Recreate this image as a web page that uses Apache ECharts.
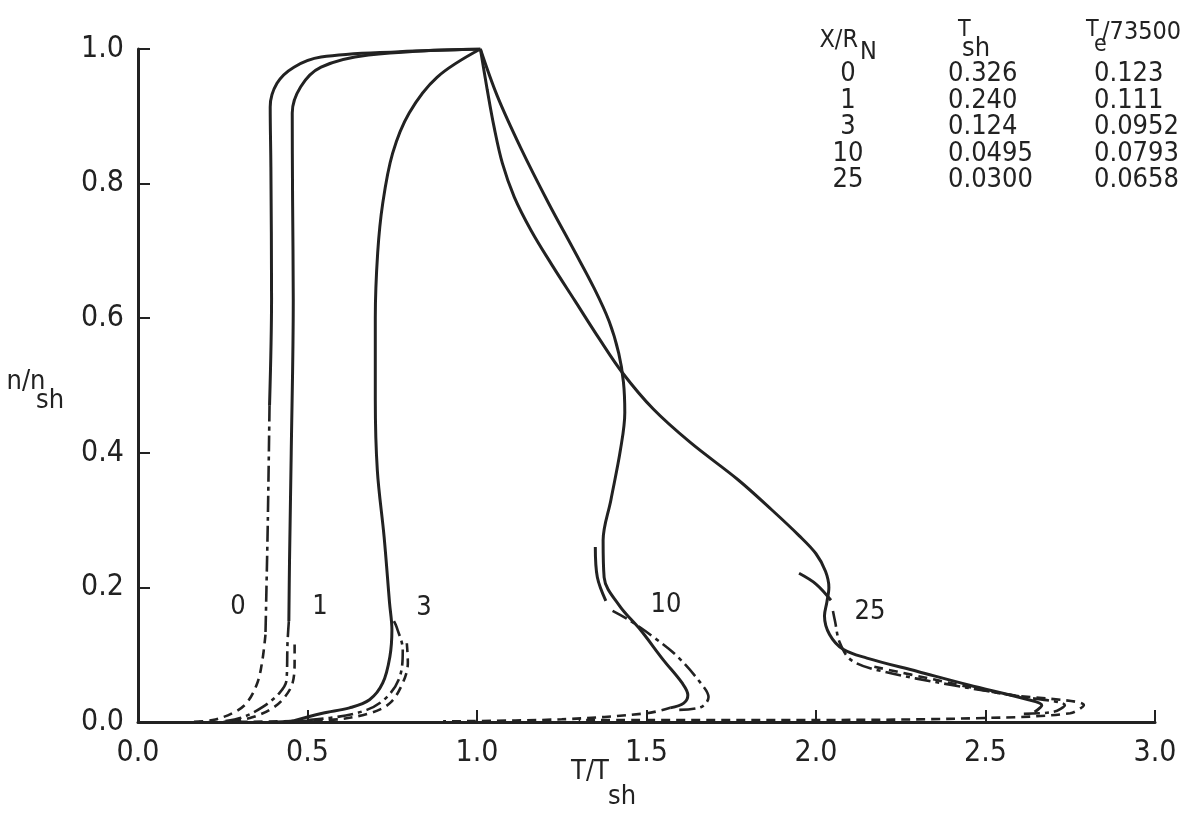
<!DOCTYPE html>
<html>
<head>
<meta charset="utf-8">
<title>n/nsh vs T/Tsh</title>
<script src="https://cdn.jsdelivr.net/npm/echarts@6/dist/echarts.min.js"></script>
<style>
  html, body { margin: 0; padding: 0; background: #fff; }
  #chart { width: 1185px; height: 831px; }
</style>
</head>
<body>
<div id="chart"></div>
<script>
// 曲线数据 [T/Tsh, n/nsh]
const case0Solid = [[1.01, 1.0], [0.77, 0.996], [0.54, 0.988], [0.46, 0.973], [0.41, 0.949], [0.39, 0.914], [0.392, 0.825], [0.394, 0.63], [0.388, 0.47]];
const case0DashDot = [[0.388, 0.47], [0.383, 0.30], [0.379, 0.20], [0.376, 0.13]];
const case0Dash = [[0.376, 0.13], [0.367, 0.092], [0.352, 0.058], [0.32, 0.028], [0.278, 0.013], [0.22, 0.003], [0.15, 0.0]];

const case1Solid = [[1.01, 1.0], [0.68, 0.991], [0.54, 0.973], [0.48, 0.944], [0.455, 0.905], [0.456, 0.776], [0.458, 0.627], [0.452, 0.40], [0.447, 0.241], [0.445, 0.15]];
const case1DashDot = [[0.445, 0.15], [0.441, 0.117], [0.438, 0.062], [0.417, 0.043], [0.367, 0.022], [0.308, 0.007], [0.25, 0.001]];
const case1Dash = [[0.462, 0.115], [0.462, 0.092], [0.456, 0.058], [0.426, 0.033], [0.388, 0.018], [0.337, 0.007], [0.28, 0.001]];

const case3Solid = [[1.01, 1.0], [0.882, 0.958], [0.80, 0.905], [0.751, 0.845], [0.722, 0.771], [0.707, 0.697], [0.70, 0.60], [0.70, 0.48], [0.706, 0.374], [0.726, 0.275], [0.742, 0.177], [0.749, 0.137], [0.743, 0.097], [0.722, 0.058], [0.683, 0.033], [0.624, 0.021], [0.544, 0.013], [0.447, 0.0]];
const case3DashDot = [[0.755, 0.15], [0.763, 0.141], [0.781, 0.107], [0.772, 0.067], [0.734, 0.037], [0.675, 0.018], [0.565, 0.006], [0.40, 0.0]];
const case3Dash = [[0.793, 0.117], [0.796, 0.088], [0.781, 0.058], [0.743, 0.028], [0.683, 0.013], [0.565, 0.003], [0.18, 0.0]];

const case10Solid = [[1.01, 1.0], [1.06, 0.93], [1.13, 0.852], [1.21, 0.772], [1.285, 0.702], [1.345, 0.645], [1.39, 0.595], [1.418, 0.548], [1.432, 0.505], [1.436, 0.46], [1.423, 0.404], [1.395, 0.33], [1.372, 0.27], [1.375, 0.215], [1.42, 0.173], [1.482, 0.137], [1.55, 0.092], [1.605, 0.058], [1.622, 0.04], [1.61, 0.028], [1.57, 0.021]];
const case10Arc = [[1.349, 0.26], [1.355, 0.215], [1.38, 0.18]];
const case10DashDot = [[1.40, 0.165], [1.453, 0.15], [1.521, 0.126], [1.592, 0.097], [1.669, 0.052], [1.683, 0.037], [1.66, 0.022], [1.59, 0.018]];
const case10Dash = [[1.57, 0.021], [1.50, 0.013], [1.25, 0.004], [0.9, 0.001]];

const case25Solid = [[1.01, 1.0], [1.03, 0.94], [1.05, 0.885], [1.075, 0.83], [1.11, 0.78], [1.16, 0.73], [1.22, 0.68], [1.29, 0.625], [1.36, 0.57], [1.429, 0.519], [1.52, 0.465], [1.63, 0.415], [1.77, 0.36], [1.87, 0.315], [1.95, 0.277], [2.0, 0.25], [2.028, 0.224], [2.038, 0.2], [2.032, 0.178], [2.025, 0.158], [2.04, 0.13], [2.08, 0.108], [2.15, 0.095], [2.3, 0.075], [2.45, 0.055], [2.627, 0.033], [2.666, 0.025], [2.645, 0.015]];
const case25Arc = [[1.95, 0.221], [2.0, 0.205], [2.044, 0.181]];
const case25DashDot = [[2.05, 0.165], [2.056, 0.15], [2.07, 0.118], [2.104, 0.092], [2.19, 0.076], [2.4, 0.055], [2.6, 0.038], [2.734, 0.025], [2.70, 0.015], [2.6, 0.012]];
const case25Dash = [[2.172, 0.082], [2.35, 0.063], [2.55, 0.042], [2.79, 0.025], [2.75, 0.013], [2.5, 0.006], [2.0, 0.003], [1.3, 0.003]];

// 表格
const tableCases = ['0', '1', '3', '10', '25'];
const tableTsh = ['0.326', '0.240', '0.124', '0.0495', '0.0300'];
const tableTe = ['0.123', '0.111', '0.0952', '0.0793', '0.0658'];

const FONT = "'Liberation Sans Narrow', 'DejaVu Sans Condensed', sans-serif";
const INK = '#222';

const myChart = echarts.init(document.getElementById('chart'));

function curve(data, kind) {
  let type = 'solid';
  let width = 3;
  if (kind === 'dash') { type = [9, 6]; width = 2.6; }
  if (kind === 'dashdot') { type = [16, 5, 4, 5]; width = 2.6; }
  return {
    type: 'line',
    data: data,
    smooth: 0.35,
    symbol: 'none',
    silent: true,
    lineStyle: { color: INK, width: width, type: type }
  };
}

function txt(x, y, s, size, align) {
  return {
    type: 'text',
    x: x,
    y: y,
    style: {
      text: s,
      font: size + 'px ' + FONT,
      fill: INK,
      align: align || 'center',
      verticalAlign: 'middle'
    }
  };
}

const graphics = [];
// 曲线标注
graphics.push(txt(238, 607, '0', 27));
graphics.push(txt(320, 607, '1', 27));
graphics.push(txt(424, 608, '3', 27));
graphics.push(txt(666, 605, '10', 27));
graphics.push(txt(870, 612, '25', 27));
// 坐标轴名称
graphics.push(txt(590, 772, 'T/T', 27));
graphics.push(txt(622, 797, 'sh', 27));
graphics.push(txt(26, 382, 'n/n', 27));
graphics.push(txt(50, 401, 'sh', 27));
// 表头
graphics.push(txt(858, 40, 'X/R', 25, 'right'));
graphics.push(txt(860, 52, 'N', 25, 'left'));
graphics.push(txt(958, 30, 'T', 23, 'left'));
graphics.push(txt(962, 49, 'sh', 27, 'left'));
graphics.push(txt(1086, 30, 'T', 23, 'left'));
graphics.push(txt(1094, 45, 'e', 23, 'left'));
graphics.push(txt(1102, 32, '/73500', 25, 'left'));
tableCases.forEach((c, i) => {
  const y = 74 + i * 26.5;
  graphics.push(txt(848, y, c, 27));
  graphics.push(txt(948, y, tableTsh[i], 27, 'left'));
  graphics.push(txt(1094, y, tableTe[i], 27, 'left'));
});

const axisCommon = {
  type: 'value',
  axisLine: { show: true, onZero: false, lineStyle: { color: INK, width: 3 } },
  axisTick: { show: true, inside: true, length: 12, lineStyle: { color: INK, width: 2 } },
  splitLine: { show: false },
  axisLabel: {
    color: INK,
    fontSize: 30,
    fontFamily: FONT,
    formatter: v => v.toFixed(1)
  }
};

myChart.setOption({
  backgroundColor: '#fff',
  animation: false,
  grid: { left: 138, right: 30, top: 49, bottom: 109 },
  xAxis: Object.assign({}, axisCommon, {
    min: 0, max: 3, interval: 0.5,
    axisLabel: Object.assign({}, axisCommon.axisLabel, { margin: 16 })
  }),
  yAxis: Object.assign({}, axisCommon, {
    min: 0, max: 1, interval: 0.2,
    axisLabel: Object.assign({}, axisCommon.axisLabel, { margin: 14 })
  }),
  series: [
    curve(case0Solid, 'solid'), curve(case0DashDot, 'dashdot'), curve(case0Dash, 'dash'),
    curve(case1Solid, 'solid'), curve(case1DashDot, 'dashdot'), curve(case1Dash, 'dash'),
    curve(case3Solid, 'solid'), curve(case3DashDot, 'dashdot'), curve(case3Dash, 'dash'),
    curve(case10Solid, 'solid'), curve(case10Arc, 'solid'), curve(case10DashDot, 'dashdot'), curve(case10Dash, 'dash'),
    curve(case25Solid, 'solid'), curve(case25Arc, 'solid'), curve(case25DashDot, 'dashdot'), curve(case25Dash, 'dash')
  ],
  graphic: graphics
});
</script>
</body>
</html>
